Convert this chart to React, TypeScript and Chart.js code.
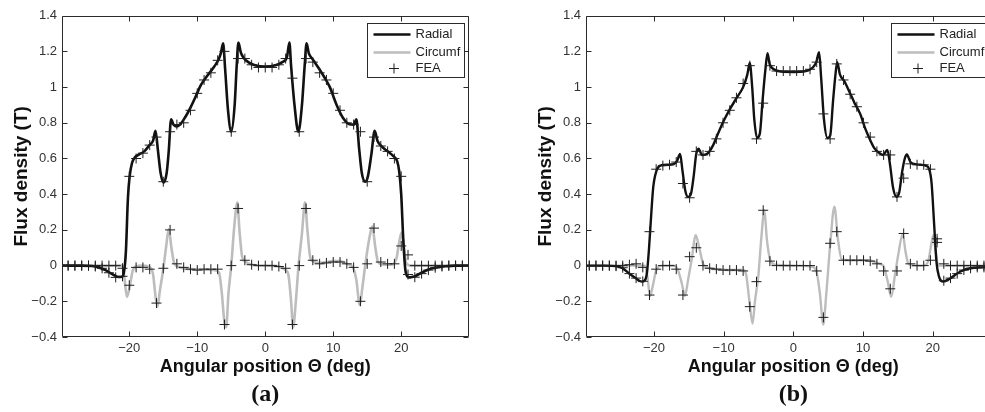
import React, { useEffect, useRef } from 'react';
import { Chart, registerables } from 'chart.js';

Chart.register(...registerables);

type Pt = [number, number];

// ---------- labels ----------
const xTickValues = [-20, -10, 0, 10, 20];
const yTickValues = [-0.4, -0.2, 0, 0.2, 0.4, 0.6, 0.8, 1, 1.2, 1.4];
const seriesNames = ['Radial', 'Circumf', 'FEA'];
const xAxisTitle = 'Angular position \u0398 (deg)';
const yAxisTitle = 'Flux density (T)';
const panelNames = ['(a)', '(b)'];

// ---------- panel (a) ----------
const radialA: Pt[] = [
  [-29.9, 0], [-27, 0], [-25.5, -0.002], [-24.5, -0.01], [-23.5, -0.025], [-22.5, -0.048], [-21.6, -0.064],
  [-21.1, -0.062], [-20.8, -0.04], [-20.5, 0.08], [-20.2, 0.38], [-19.95, 0.5], [-19.6, 0.575], [-19.2, 0.605],
  [-18.6, 0.622], [-17.8, 0.64], [-17, 0.676], [-16.5, 0.7], [-16.15, 0.755], [-15.8, 0.65], [-15.4, 0.52],
  [-14.95, 0.465], [-14.5, 0.52], [-14.2, 0.64], [-13.85, 0.82], [-13.5, 0.79], [-13.1, 0.78], [-12.5, 0.792],
  [-11.8, 0.83], [-11, 0.885], [-10.2, 0.95], [-9.5, 1.01], [-8.5, 1.065], [-7.5, 1.115], [-6.8, 1.16],
  [-6.5, 1.195], [-6.2, 1.245], [-5.9, 1.1], [-5.5, 0.88], [-5.0, 0.75], [-4.5, 0.9], [-4.2, 1.12], [-3.95, 1.25],
  [-3.6, 1.195], [-3.2, 1.165], [-2.5, 1.14], [-1.5, 1.122], [0, 1.115], [1.5, 1.122], [2.5, 1.14], [3.2, 1.17],
  [3.55, 1.25], [3.8, 1.12], [4.3, 0.9], [4.87, 0.75], [5.4, 0.9], [5.8, 1.12], [6.08, 1.245], [6.4, 1.19],
  [7, 1.155], [7.8, 1.11], [8.7, 1.055], [9.5, 1.0], [10.5, 0.9], [11.4, 0.83], [12.4, 0.792], [13.05, 0.79],
  [13.4, 0.82], [13.8, 0.66], [14.2, 0.52], [14.7, 0.47], [15.1, 0.5], [15.6, 0.62], [16.1, 0.755], [16.5, 0.7],
  [17.2, 0.665], [18, 0.64], [18.8, 0.615], [19.4, 0.585], [19.7, 0.53], [20.0, 0.4], [20.3, 0.15], [20.6, -0.02],
  [20.9, -0.06], [21.3, -0.066], [22, -0.06], [23, -0.04], [24, -0.022], [25, -0.012], [26.5, -0.004], [28, 0],
  [29.9, 0],
];
const circumA: Pt[] = [
  [-29.9, 0], [-22, 0], [-21, 0], [-20.75, -0.06], [-20.35, -0.175], [-20, -0.13], [-19.5, -0.03], [-19, -0.005],
  [-18, 0], [-17, -0.01], [-16.5, -0.05], [-16.15, -0.17], [-15.85, -0.23], [-15.5, -0.14], [-15, -0.02],
  [-14.6, 0.1], [-14.2, 0.205], [-13.8, 0.1], [-13.4, 0.015], [-12.5, -0.01], [-11, -0.02], [-9, -0.022],
  [-7.5, -0.025], [-6.8, -0.04], [-6.4, -0.15], [-6.0, -0.32], [-5.75, -0.345], [-5.4, -0.15], [-5.0, 0.0],
  [-4.6, 0.2], [-4.1, 0.355], [-3.8, 0.2], [-3.4, 0.05], [-3, 0.025], [-2, 0.005], [0, 0], [2, -0.005],
  [3, -0.025], [3.4, -0.05], [3.8, -0.2], [4.1, -0.345], [4.5, -0.2], [4.9, 0.0], [5.4, 0.18], [5.85, 0.355],
  [6.2, 0.2], [6.6, 0.05], [7, 0.025], [8, 0.015], [9, 0.02], [10, 0.025], [11, 0.025], [12, 0.01], [12.9, -0.01],
  [13.4, -0.08], [13.9, -0.22], [14.3, -0.12], [14.7, 0.0], [15.3, 0.15], [15.75, 0.22], [16.2, 0.1], [16.6, 0.02],
  [17.5, 0.005], [18.5, 0.005], [19.3, 0.04], [19.7, 0.13], [20.05, 0.185], [20.4, 0.1], [20.8, 0.01], [21.5, 0],
  [29.9, 0],
];
const feaAngleA = [
  -29, -28, -27, -26, -25, -24, -23, -22, -21, -20, -19, -18, -17, -16, -15, -14, -13, -12, -11, -10, -9, -8, -7, -6,
  -5, -4, -3, -2, -1, 0, 1, 2, 3, 4, 5, 6, 7, 8, 9, 10, 11, 12, 13, 14, 15, 16, 17, 18, 19, 20, 21, 22, 23, 24, 25,
  26, 27, 28, 29,
];
const feaRadialA = [
  0, 0, 0, 0, -0.005, -0.015, -0.04, -0.066, -0.06, 0.5, 0.6, 0.63, 0.675, 0.72, 0.47, 0.75, 0.79, 0.8, 0.87, 0.965,
  1.04, 1.08, 1.15, 1.2, 0.75, 1.16, 1.16, 1.125, 1.11, 1.11, 1.11, 1.125, 1.16, 1.05, 0.75, 1.16, 1.14, 1.08, 1.04,
  0.965, 0.87, 0.8, 0.79, 0.75, 0.47, 0.72, 0.67, 0.64, 0.6, 0.5, -0.05, -0.065, -0.045, -0.025, -0.012, -0.005, 0,
  0, 0,
];
const feaCircumA = [
  0, 0, 0, 0, 0, 0, 0, 0, -0.015, -0.11, -0.01, -0.01, -0.02, -0.21, -0.015, 0.2, 0.01, -0.01, -0.02, -0.025, -0.02,
  -0.02, -0.02, -0.33, 0.0, 0.32, 0.03, 0.005, 0, 0, 0, -0.005, -0.015, -0.33, 0.0, 0.32, 0.03, 0.01, 0.015, 0.02,
  0.02, 0.01, -0.01, -0.2, 0.01, 0.21, 0.02, 0.01, 0.01, 0.11, 0.06, 0, 0, 0, 0, 0, 0, 0, 0,
];

// ---------- panel (b) ----------
const radialB: Pt[] = [
  [-29.75, 0], [-27, 0], [-25.5, -0.003], [-24.5, -0.015], [-23.7, -0.04], [-22.7, -0.068], [-21.75, -0.09],
  [-21.3, -0.082], [-21.0, -0.04], [-20.7, 0.1], [-20.4, 0.28], [-20.1, 0.44], [-19.6, 0.535], [-18.9, 0.562],
  [-18, 0.565], [-17.2, 0.568], [-16.7, 0.585], [-16.25, 0.625], [-15.9, 0.53], [-15.5, 0.42], [-15.1, 0.385],
  [-14.7, 0.4], [-14.3, 0.5], [-13.95, 0.62], [-13.6, 0.655], [-13.1, 0.62], [-12.3, 0.628], [-11.5, 0.675],
  [-10.8, 0.74], [-10, 0.81], [-9.2, 0.87], [-8.2, 0.935], [-7.2, 1.0], [-6.6, 1.07], [-6.25, 1.135], [-5.9, 1.0],
  [-5.6, 0.82], [-5.2, 0.715], [-4.8, 0.74], [-4.4, 0.93], [-4.0, 1.1], [-3.7, 1.19], [-3.4, 1.13], [-2.8, 1.1],
  [-1.8, 1.087], [0, 1.085], [1.8, 1.09], [2.8, 1.11], [3.3, 1.14], [3.7, 1.195], [4.0, 1.05], [4.4, 0.82],
  [4.9, 0.715], [5.3, 0.73], [5.7, 0.92], [6.05, 1.07], [6.3, 1.14], [6.7, 1.07], [7.3, 1.035], [8.1, 0.97],
  [8.8, 0.91], [9.6, 0.85], [10.3, 0.77], [10.9, 0.715], [11.6, 0.66], [12.3, 0.632], [12.9, 0.62], [13.5, 0.648],
  [13.9, 0.56], [14.3, 0.44], [14.8, 0.385], [15.2, 0.41], [15.6, 0.52], [16.0, 0.6], [16.3, 0.622], [16.8, 0.58],
  [17.5, 0.568], [18.3, 0.565], [19.0, 0.56], [19.5, 0.54], [19.85, 0.46], [20.2, 0.24], [20.55, 0.02], [20.9, -0.06],
  [21.5, -0.09], [22.5, -0.072], [23.3, -0.05], [24, -0.033], [25.4, -0.015], [27.3, -0.01], [29.75, -0.005],
];
const circumB: Pt[] = [
  [-29.75, 0], [-21.3, 0], [-20.95, -0.06], [-20.55, -0.17], [-20.2, -0.12], [-19.7, -0.03], [-18.9, 0.0],
  [-17.2, 0.0], [-16.6, -0.02], [-16.0, -0.1], [-15.55, -0.17], [-15.1, -0.08], [-14.6, 0.03], [-14.0, 0.17],
  [-13.5, 0.1], [-12.9, 0.005], [-12, -0.015], [-10.5, -0.022], [-8, -0.025], [-7.2, -0.025], [-6.8, -0.045],
  [-6.3, -0.2], [-5.85, -0.325], [-5.5, -0.2], [-5.0, -0.05], [-4.6, 0.15], [-4.15, 0.31], [-3.8, 0.15],
  [-3.3, 0.03], [-2.6, 0.005], [0, 0], [2.6, -0.005], [3.3, -0.03], [3.8, -0.15], [4.3, -0.33], [4.75, -0.15],
  [5.3, 0.12], [5.9, 0.33], [6.4, 0.15], [6.95, 0.035], [8, 0.03], [11, 0.03], [12, 0.015], [12.9, 0.0],
  [13.5, -0.08], [14.05, -0.175], [14.6, -0.05], [15.1, 0.07], [15.7, 0.178], [16.1, 0.08], [16.5, 0.013],
  [17.5, 0.0], [18.7, 0.0], [19.4, 0.03], [19.8, 0.12], [20.1, 0.17], [20.4, 0.09], [20.8, 0.0], [29.75, 0],
];
const feaAngleB = [
  -29.28, -28.32, -27.36, -26.4, -25.44, -24.48, -23.52, -22.56, -21.6, -20.64, -19.68, -18.72, -17.76, -16.8,
  -15.84, -14.88, -13.92, -12.96, -12.0, -11.04, -10.08, -9.12, -8.16, -7.2, -6.24, -5.28, -4.32, -3.36, -2.4,
  -1.44, -0.48, 0.48, 1.44, 2.4, 3.36, 4.32, 5.28, 6.24, 7.2, 8.16, 9.12, 10.08, 11.04, 12.0, 12.96, 13.92, 14.88,
  15.84, 16.8, 17.76, 18.72, 19.68, 20.64, 21.6, 22.56, 23.52, 24.48, 25.44, 26.4, 27.36, 28.32, 29.28,
];
const feaRadialB = [
  0, 0, 0, 0, -0.003, -0.012, -0.045, -0.07, -0.088, 0.19, 0.54, 0.56, 0.565, 0.58, 0.46, 0.38, 0.64, 0.62, 0.64,
  0.71, 0.8, 0.87, 0.94, 1.02, 1.12, 0.71, 0.91, 1.12, 1.09, 1.09, 1.09, 1.09, 1.09, 1.1, 1.14, 0.85, 0.71, 1.13,
  1.04, 0.96, 0.89, 0.8, 0.72, 0.64, 0.62, 0.62, 0.385, 0.49, 0.57, 0.565, 0.565, 0.54, 0.15, -0.085, -0.07, -0.045,
  -0.025, -0.015, -0.01, -0.01, -0.008, -0.005,
];
const feaCircumB = [
  0, 0, 0, 0, 0, 0, 0.005, 0.01, -0.01, -0.165, -0.02, 0, 0, -0.02, -0.165, 0.05, 0.1, 0, -0.015, -0.02, -0.025,
  -0.025, -0.025, -0.03, -0.23, -0.09, 0.31, 0.025, 0, 0, 0, 0, 0, 0, -0.03, -0.29, 0.125, 0.19, 0.03, 0.03, 0.03,
  0.03, 0.025, 0.01, -0.03, -0.13, -0.03, 0.18, 0.01, 0, 0, 0.03, 0.13, 0.01, 0, 0, 0, 0, 0, 0, 0, 0,
];

// ---------- rendering ----------
const SANS = '"Liberation Sans", Arial, Helvetica, sans-serif';
const SERIF = '"Liberation Serif", "Times New Roman", serif';

function fmtTick(v: number): string {
  const r = Math.round(v * 10) / 10;
  const s = String(Math.abs(r));
  return r < 0 ? '\u2212' + s : s;
}

const frameLegendPlugin = {
  id: 'frameLegend',
  afterDraw(chart: any, _args: any, opts: any) {
    const { ctx, chartArea: ca } = chart;
    const xs = chart.scales.x;
    const ys = chart.scales.y;
    ctx.save();
    ctx.strokeStyle = '#2b2b2b';
    ctx.lineWidth = 1;
    const L = Math.round(ca.left) + 0.5;
    const R = Math.round(ca.right) - 0.5;
    const T = Math.round(ca.top) + 0.5;
    const B = Math.round(ca.bottom) - 0.5;
    const tl = 5;
    ctx.beginPath();
    ctx.rect(L, T, R - L, B - T);
    xs.ticks.forEach((t: any) => {
      const p = Math.round(xs.getPixelForValue(t.value)) + 0.5;
      ctx.moveTo(p, B);
      ctx.lineTo(p, B - tl);
      ctx.moveTo(p, T);
      ctx.lineTo(p, T + tl);
    });
    ys.ticks.forEach((t: any) => {
      const p = Math.round(ys.getPixelForValue(t.value)) + 0.5;
      ctx.moveTo(L, p);
      ctx.lineTo(L + tl, p);
      ctx.moveTo(R, p);
      ctx.lineTo(R - tl, p);
    });
    ctx.stroke();

    // legend box inside the plot, top right
    const w = opts.width;
    const h = 54;
    const bx = Math.round(R - 5 - w) + 0.5;
    const by = Math.round(T + 6) + 0.5;
    ctx.fillStyle = '#ffffff';
    ctx.fillRect(bx, by, w, h);
    ctx.strokeStyle = '#2b2b2b';
    ctx.lineWidth = 1;
    ctx.strokeRect(bx, by, w, h);
    const rows = [11, 29, 45];
    ctx.font = `13px ${SANS}`;
    ctx.textBaseline = 'middle';
    ctx.textAlign = 'left';
    chart.data.datasets.forEach((d: any, i: number) => {
      const y = by + rows[i];
      ctx.strokeStyle = d.borderColor;
      if (d.showLine === false) {
        const cx = bx + 26.5;
        ctx.lineWidth = 1;
        ctx.beginPath();
        ctx.moveTo(cx - 5, y);
        ctx.lineTo(cx + 5, y);
        ctx.moveTo(cx, y - 5);
        ctx.lineTo(cx, y + 5);
        ctx.stroke();
      } else {
        ctx.lineWidth = d.borderWidth;
        ctx.beginPath();
        ctx.moveTo(bx + 6, y);
        ctx.lineTo(bx + 43, y);
        ctx.stroke();
      }
      ctx.fillStyle = '#222';
      ctx.fillText(d.label, bx + 48, y);
    });
    ctx.restore();
  },
};

interface PanelProps {
  left: number;
  width: number;
  padLeft: number;
  padRight: number;
  xMin: number;
  xMax: number;
  radial: Pt[];
  circum: Pt[];
  feaAngle: number[];
  feaRadial: number[];
  feaCircum: number[];
  name: string;
  legendWidth: number;
  lineWidth: number;
}

function Panel(p: PanelProps) {
  const ref = useRef<HTMLCanvasElement>(null);
  useEffect(() => {
    const canvas = ref.current;
    if (!canvas) return;
    const feaPts = [
      ...p.feaAngle.map((x, i) => ({ x, y: p.feaRadial[i] })),
      ...p.feaAngle.map((x, i) => ({ x, y: p.feaCircum[i] })),
    ];
    const chart = new Chart(canvas, {
      type: 'line',
      data: {
        datasets: [
          {
            label: seriesNames[0],
            data: p.radial.map(([x, y]) => ({ x, y })),
            borderColor: '#111111',
            borderWidth: p.lineWidth,
            pointRadius: 0,
            cubicInterpolationMode: 'monotone',
            order: 1,
          },
          {
            label: seriesNames[1],
            data: p.circum.map(([x, y]) => ({ x, y })),
            borderColor: '#bdbdbd',
            borderWidth: p.lineWidth,
            pointRadius: 0,
            cubicInterpolationMode: 'monotone',
            order: 2,
          },
          {
            label: seriesNames[2],
            data: feaPts,
            showLine: false,
            pointStyle: 'cross',
            pointRadius: 5,
            pointBorderWidth: 1,
            borderColor: '#1e1e1e',
            pointBorderColor: '#1e1e1e',
            order: 0,
          },
        ] as any,
      },
      options: {
        responsive: false,
        animation: false,
        devicePixelRatio: 1,
        layout: { padding: { left: p.padLeft, right: p.padRight, top: 15.7, bottom: 3.3 } },
        plugins: {
          legend: { display: false },
          tooltip: { enabled: false },
          title: {
            display: true,
            text: p.name,
            position: 'bottom',
            fullSize: false,
            color: '#111',
            font: { family: SERIF, size: 24, weight: 'bold' },
            padding: { top: 2.4, bottom: 0 },
          },
          frameLegend: { width: p.legendWidth },
        } as any,
        scales: {
          x: {
            type: 'linear',
            min: p.xMin,
            max: p.xMax,
            grid: { display: false, drawTicks: false },
            border: { display: false },
            afterBuildTicks: (s: any) => {
              s.ticks = xTickValues.map((v) => ({ value: v }));
            },
            afterFit: (s: any) => {
              s.height = 40.5;
            },
            ticks: {
              autoSkip: false,
              maxRotation: 0,
              padding: 4,
              color: '#333',
              font: { family: SANS, size: 13 },
              callback: (v: any) => fmtTick(Number(v)),
            },
            title: {
              display: true,
              text: xAxisTitle,
              color: '#111',
              font: { family: SANS, size: 18, weight: 'bold' },
              padding: { top: 0, bottom: 0 },
            },
          },
          y: {
            type: 'linear',
            min: -0.4,
            max: 1.4,
            grid: { display: false, drawTicks: false },
            border: { display: false },
            afterBuildTicks: (s: any) => {
              s.ticks = yTickValues.map((v) => ({ value: v }));
            },
            afterFit: (s: any) => {
              s.width = 62;
            },
            ticks: {
              autoSkip: false,
              padding: 5,
              color: '#333',
              font: { family: SANS, size: 13 },
              callback: (v: any) => fmtTick(Number(v)),
            },
            title: {
              display: true,
              text: yAxisTitle,
              color: '#111',
              font: { family: SANS, size: 19, weight: 'bold' },
              padding: { top: 10, bottom: 0 },
            },
          },
        } as any,
      },
      plugins: [frameLegendPlugin],
    });
    return () => chart.destroy();
  }, []);
  return (
    <canvas
      ref={ref}
      width={p.width}
      height={412}
      style={{ position: 'absolute', left: p.left, top: 0, width: p.width, height: 412 }}
    />
  );
}

export default function App() {
  return (
    <div
      style={{
        position: 'absolute',
        left: 0,
        top: 0,
        width: 985,
        height: 412,
        overflow: 'hidden',
        background: '#ffffff',
      }}
    >
      <Panel
        left={0}
        width={490}
        padLeft={0}
        padRight={21.5}
        xMin={-29.9}
        xMax={29.9}
        radial={radialA}
        circum={circumA}
        feaAngle={feaAngleA}
        feaRadial={feaRadialA}
        feaCircum={feaCircumA}
        name={panelNames[0]}
        legendWidth={97}
        lineWidth={2.6}
      />
      <Panel
        left={490}
        width={530}
        padLeft={34}
        padRight={19.4}
        xMin={-29.75}
        xMax={29.75}
        radial={radialB}
        circum={circumB}
        feaAngle={feaAngleB}
        feaRadial={feaRadialB}
        feaCircum={feaCircumB}
        name={panelNames[1]}
        legendWidth={105}
        lineWidth={2.4}
      />
    </div>
  );
}
